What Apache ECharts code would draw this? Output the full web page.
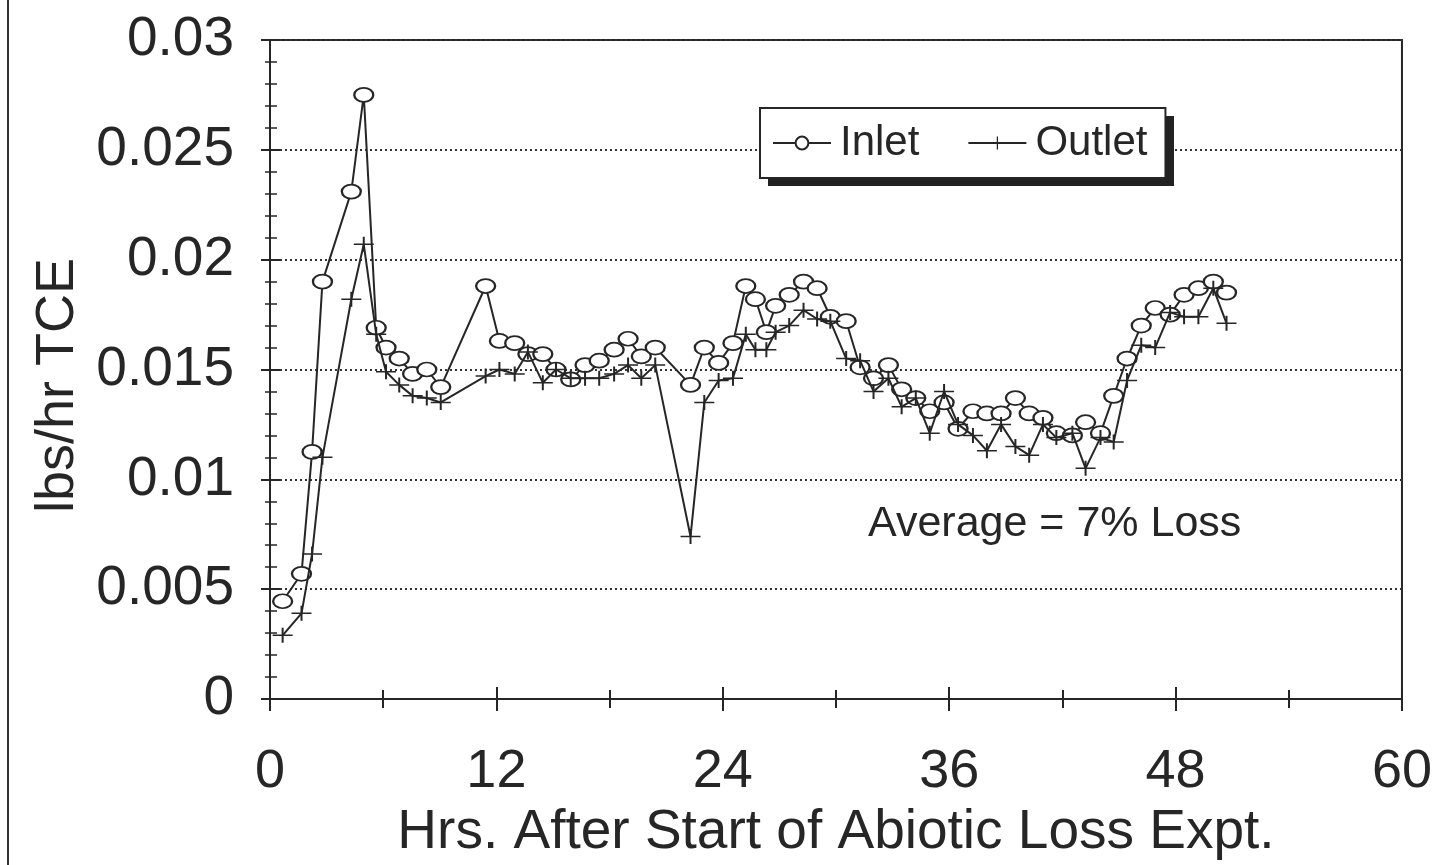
<!DOCTYPE html>
<html>
<head>
<meta charset="utf-8">
<title>Abiotic Loss Expt.</title>
<script src="https://cdn.jsdelivr.net/npm/echarts@6/dist/echarts.min.js"></script>
<style>
  html, body { margin: 0; padding: 0; background: #fff; }
  #chart { width: 1435px; height: 865px; }
</style>
</head>
<body>
<div id="chart"></div>
<script>
// sample times (hrs after start)
const hours = [0.67, 1.67, 2.23, 2.78, 4.31, 4.97, 5.63, 6.15, 6.85, 7.56, 8.31, 9.05,
  11.43, 12.16, 12.97, 13.67, 14.46, 15.16, 15.94, 16.70, 17.45, 18.24, 18.98, 19.68, 20.42,
  22.29, 23.02, 23.78, 24.54, 25.22, 25.73, 26.31, 26.80, 27.52, 28.28, 29.00, 29.70,
  30.54, 31.28, 31.99, 32.78, 33.48, 34.23, 34.97, 35.73, 36.47, 37.26, 38.00, 38.75, 39.51, 40.24, 40.97,
  41.68, 42.53, 43.23, 44.02, 44.72, 45.43, 46.18, 46.92, 47.71, 48.45, 49.21, 50.00, 50.70]

// lbs/hr TCE
const inlet = [0.00445, 0.0057, 0.01125, 0.0190, 0.0231, 0.0275, 0.0169, 0.0160, 0.0155, 0.0148, 0.0150, 0.0142,
  0.0188, 0.0163, 0.0162, 0.0157, 0.0157, 0.0150, 0.01455, 0.0152, 0.0154, 0.0159, 0.0164, 0.0156, 0.0160,
  0.0143, 0.0160, 0.0153, 0.0162, 0.0188, 0.0182, 0.0167, 0.0179, 0.0184, 0.0190, 0.0187, 0.0174,
  0.0172, 0.0151, 0.0146, 0.0152, 0.0141, 0.0137, 0.0131, 0.0135, 0.0123, 0.0131, 0.0130, 0.0130, 0.0137, 0.0130, 0.0128,
  0.0121, 0.0120, 0.0126, 0.0121, 0.0138, 0.0155, 0.0170, 0.0178, 0.0175, 0.0184, 0.0187, 0.0190, 0.0185]

const outlet = [0.0029, 0.0039, 0.0066, 0.0110, 0.0182, 0.0207, 0.0166, 0.0149, 0.0143, 0.0138, 0.0137, 0.0135,
  0.0147, 0.0150, 0.0148, 0.0158, 0.0144, 0.0150, 0.0146, 0.0146, 0.0146, 0.0148, 0.0152, 0.0146, 0.0152,
  0.0074, 0.0135, 0.0145, 0.0146, 0.0166, 0.0159, 0.0159, 0.0167, 0.0170, 0.0177, 0.0173, 0.0172,
  0.0155, 0.0154, 0.0140, 0.0146, 0.0133, 0.0137, 0.0121, 0.0140, 0.0125, 0.0120, 0.0113, 0.0125, 0.0115, 0.0111, 0.0125,
  0.0119, 0.0121, 0.0105, 0.0119, 0.0117, 0.0145, 0.0161, 0.0160, 0.0176, 0.0174, 0.0174, 0.0187, 0.0171]

const seriesNames = ['Inlet', 'Outlet']
const note = 'Average = 7% Loss'

const ink = '#262626'
const font = '"Liberation Sans", Arial, sans-serif'
// thin plus marker
const plusPath = 'path://M0,9L20,9L20,11L0,11Z M9,0L11,0L11,20L9,20Z'

const chart = echarts.init(document.getElementById('chart'))

// second (unlabelled) axis only adds the inward half of the crossing ticks
const xBase = { type: 'value', min: 0, max: 60, interval: 12, position: 'bottom' }
const yBase = { type: 'value', min: 0, max: 0.03, interval: 0.005, position: 'left' }

const option = {
  backgroundColor: '#fff',
  animation: false,
  textStyle: { fontFamily: font, color: ink },
  grid: {
    left: 270, right: 27, top: 40, bottom: 165,
    show: true, borderColor: ink, borderWidth: 2, backgroundColor: 'transparent'
  },
  legend: {
    data: seriesNames,
    left: 760, top: 108, z: 5,
    padding: [14, 18, 14, 12],
    itemGap: 48,
    itemWidth: 58, itemHeight: 16,
    backgroundColor: '#fff',
    borderColor: ink, borderWidth: 2,
    textStyle: { fontSize: 42, fontFamily: font, color: ink, padding: [0, 0, 0, 4] }
  },
  xAxis: [
    Object.assign({}, xBase, {
      name: 'Hrs. After Start of Abiotic Loss Expt.',
      nameLocation: 'middle', nameGap: 106,
      nameTextStyle: { fontSize: 55, fontFamily: font, color: ink },
      axisLine: { lineStyle: { color: ink, width: 2 } },
      axisTick: { length: 12, lineStyle: { color: ink, width: 2 } },
      minorTick: { show: true, splitNumber: 2, length: 9, lineStyle: { color: ink, width: 2 } },
      axisLabel: { fontSize: 54, fontFamily: font, color: ink, margin: 46 },
      splitLine: { show: false }
    }),
    Object.assign({}, xBase, {
      axisLine: { show: false },
      axisTick: { inside: true, length: 12, lineStyle: { color: ink, width: 2 } },
      minorTick: { show: true, splitNumber: 2, length: 9, lineStyle: { color: ink, width: 2 } },
      axisLabel: { show: false },
      splitLine: { show: false }
    })
  ],
  yAxis: [
    Object.assign({}, yBase, {
      name: 'lbs/hr TCE',
      nameLocation: 'middle', nameGap: 184,
      nameTextStyle: { fontSize: 54, fontFamily: font, color: ink, padding: [0, 32, 0, 0] },
      axisLine: { show: true, lineStyle: { color: ink, width: 2 } },
      axisTick: { show: true, length: 9, lineStyle: { color: ink, width: 2 } },
      minorTick: { show: true, splitNumber: 5, length: 5, lineStyle: { color: ink, width: 1.5 } },
      axisLabel: { fontSize: 55, fontFamily: font, color: ink, margin: 36 },
      splitLine: { show: true, lineStyle: { color: '#333', width: 2, type: [2, 3] } }
    }),
    Object.assign({}, yBase, {
      axisLine: { show: false },
      axisTick: { show: true, inside: true, length: 10, lineStyle: { color: ink, width: 2 } },
      minorTick: { show: true, splitNumber: 5, length: 7, lineStyle: { color: ink, width: 1.5 } },
      axisLabel: { show: false },
      splitLine: { show: false }
    })
  ],
  graphic: [
    {
      type: 'line', z: 10,
      shape: { x1: 8, y1: 0, x2: 8, y2: 865 },
      style: { stroke: '#333', lineWidth: 2 }
    },
    {
      // drop shadow under the legend box
      type: 'rect', z: 1,
      shape: { x: 768, y: 116, width: 406, height: 70 },
      style: { fill: '#222' }
    },
    {
      type: 'text', left: 868, top: 503, z: 10,
      style: { text: note, fontSize: 43, fontFamily: font, fill: ink }
    }
  ],
  series: [
    {
      name: seriesNames[0],
      type: 'line',
      data: hours.map((h, i) => [h, inlet[i]]),
      symbol: 'emptyCircle',
      symbolSize: [19, 14],
      lineStyle: { color: ink, width: 2 },
      itemStyle: { color: ink, borderColor: ink, borderWidth: 1.8 },
      z: 2
    },
    {
      name: seriesNames[1],
      type: 'line',
      data: hours.map((h, i) => [h, outlet[i]]),
      symbol: plusPath,
      symbolSize: [20, 15],
      lineStyle: { color: ink, width: 2 },
      itemStyle: { color: ink, borderWidth: 0 },
      z: 3
    }
  ]
}

chart.setOption(option)
</script>
</body>
</html>
